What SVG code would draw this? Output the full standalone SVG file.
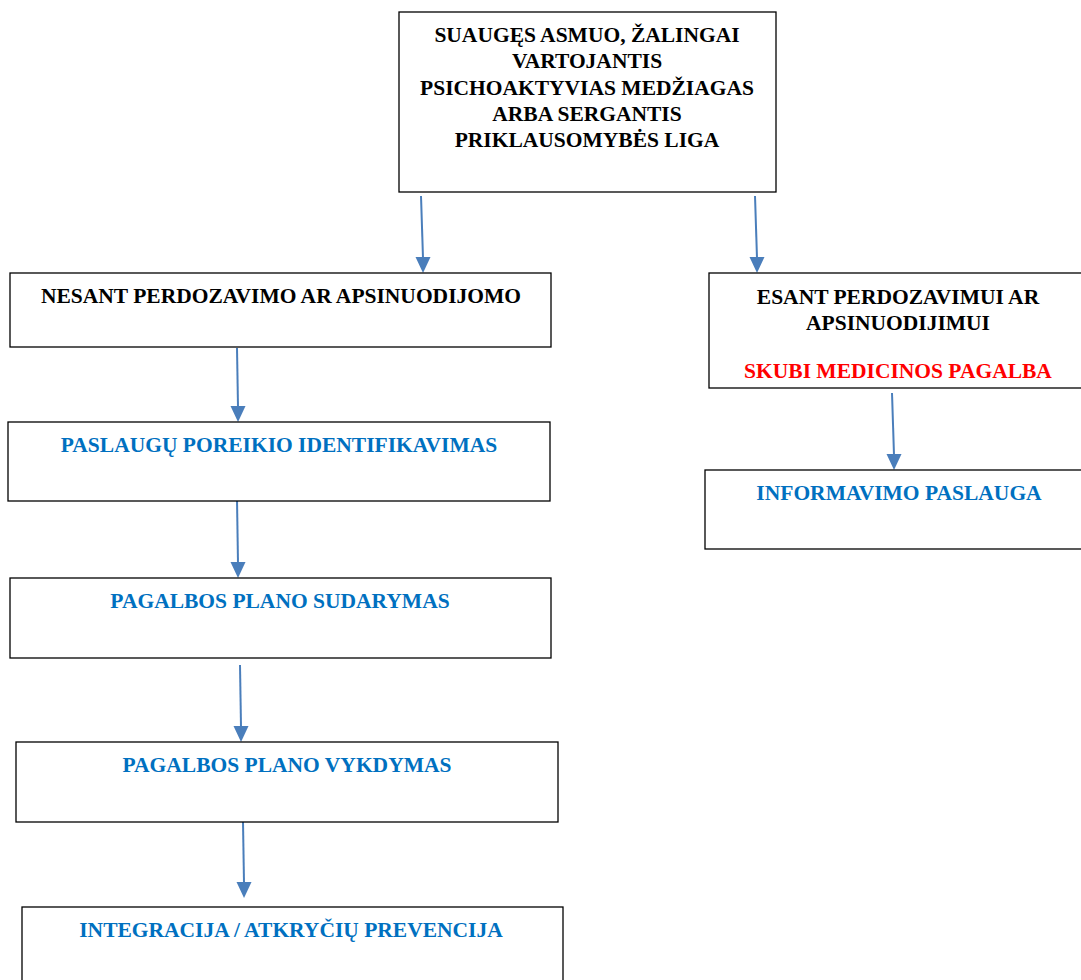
<svg xmlns="http://www.w3.org/2000/svg" width="1081" height="980" viewBox="0 0 1081 980">
<style>
.box{fill:#fff;stroke:#000;stroke-width:1.3}
.t{font-family:"Liberation Serif","Times New Roman",serif;font-weight:bold;font-size:21.5px;text-anchor:middle}
.k{fill:#000}.b{fill:#0070C0}.r{fill:#FF0000}
.c{stroke:#4A7EBB;stroke-width:2;fill:none}
.h{fill:#4A7EBB}
</style>
<rect width="1081" height="980" fill="#fff"/>
<g id="connectors">
<line class="c" x1="421" y1="196" x2="423" y2="258"/>
<path class="h" d="M415.5,257 L430.5,257 L423,273 Z"/>
<line class="c" x1="755" y1="196" x2="757" y2="258"/>
<path class="h" d="M749.5,257 L764.5,257 L757,273 Z"/>
<line class="c" x1="237" y1="348" x2="238" y2="407"/>
<path class="h" d="M230.5,406 L245.5,406 L238,422 Z"/>
<line class="c" x1="237" y1="499" x2="238" y2="563"/>
<path class="h" d="M230.5,562 L245.5,562 L238,578 Z"/>
<line class="c" x1="240" y1="665" x2="241" y2="727"/>
<path class="h" d="M233.5,726 L248.5,726 L241,742 Z"/>
<line class="c" x1="243" y1="822" x2="244" y2="883"/>
<path class="h" d="M236.5,882 L251.5,882 L244,898 Z"/>
<line class="c" x1="892" y1="393" x2="894" y2="455"/>
<path class="h" d="M886.5,454 L901.5,454 L894,470 Z"/>
</g>
<g id="n-top">
<rect class="box" x="399" y="12" width="377" height="180"/>
<text class="t k" x="587" y="42">SUAUGĘS ASMUO, ŽALINGAI</text>
<text class="t k" x="587" y="68">VARTOJANTIS</text>
<text class="t k" x="587" y="95">PSICHOAKTYVIAS MEDŽIAGAS</text>
<text class="t k" x="587" y="121">ARBA SERGANTIS</text>
<text class="t k" x="587" y="147">PRIKLAUSOMYBĖS LIGA</text>
</g>
<g id="n-nesant">
<rect class="box" x="10" y="273" width="541" height="74"/>
<text class="t k" x="281" y="303">NESANT PERDOZAVIMO AR APSINUODIJOMO</text>
</g>
<g id="n-esant">
<rect class="box" x="709" y="273" width="380" height="115"/>
<text class="t k" x="898" y="304">ESANT PERDOZAVIMUI AR</text>
<text class="t k" x="898" y="330">APSINUODIJIMUI</text>
<text class="t r" x="898" y="378">SKUBI MEDICINOS PAGALBA</text>
</g>
<g id="n-info">
<rect class="box" x="705" y="470" width="384" height="79"/>
<text class="t b" x="899" y="500">INFORMAVIMO PASLAUGA</text>
</g>
<g id="n-poreikis">
<rect class="box" x="8" y="422" width="542" height="79"/>
<text class="t b" x="279" y="452">PASLAUGŲ POREIKIO IDENTIFIKAVIMAS</text>
</g>
<g id="n-sudarymas">
<rect class="box" x="10" y="578" width="541" height="80"/>
<text class="t b" x="280" y="608">PAGALBOS PLANO SUDARYMAS</text>
</g>
<g id="n-vykdymas">
<rect class="box" x="16" y="742" width="542" height="80"/>
<text class="t b" x="287" y="772">PAGALBOS PLANO VYKDYMAS</text>
</g>
<g id="n-integracija">
<rect class="box" x="22" y="907" width="541" height="80"/>
<text class="t b" x="291" y="937">INTEGRACIJA / ATKRYČIŲ PREVENCIJA</text>
</g>
</svg>
